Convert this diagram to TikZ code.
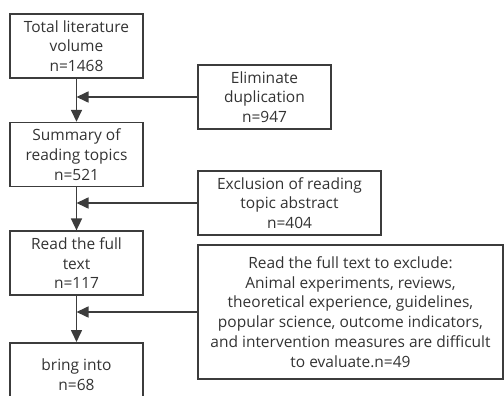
\documentclass[tikz,border=0pt]{standalone}
\usepackage{fontspec}
\setmainfont{Open Sans}
\usetikzlibrary{arrows.meta,positioning}
\definecolor{linegray}{HTML}{3C3C3C}
\definecolor{textgray}{HTML}{333333}
\begin{document}
\begin{tikzpicture}[x=1pt,y=1pt,>={Triangle[length=12pt,width=11pt]},node distance=43pt,
  box/.style={draw=linegray,line width=1.6pt,minimum width=133pt,minimum height=64pt,align=center,
    inner sep=2pt,text=textgray,font=\fontsize{15.5}{19.8}\selectfont},
  arrow/.style={->,line width=1.6pt,draw=linegray,fill=linegray}]
  \useasboundingbox (0,0) rectangle (504,-396);
  \node[box] (total) at (76.5,-46) {Total literature\\volume\\n=1468};
  \node[box,below=of total] (summary) {Summary of\\reading topics\\n=521};
  \node[box,below=of summary] (fulltext) {Read the full\\text\\n=117};
  \node[box,below=46pt of fulltext] (include) {bring into\\n=68};
  \node[box] (elim) at (264.5,-97) {Eliminate\\duplication\\n=947};
  \node[box,minimum width=183pt] (abstract) at (289.5,-203) {Exclusion of reading\\topic abstract\\n=404};
  \node[box,minimum width=305pt,minimum height=134pt] (fullexcl) at (350.5,-312)
    {Read the full text to exclude:\\Animal experiments, reviews,\\theoretical experience, guidelines,\\popular science, outcome indicators,\\and intervention measures are difficult\\to evaluate.n=49};
  \draw[arrow] (total) -- (summary);
  \draw[arrow] (summary) -- (fulltext);
  \draw[arrow] (fulltext) -- (include);
  \draw[arrow] (elim) -- (elim -| total);
  \draw[arrow] (abstract) -- (abstract -| summary);
  \draw[arrow] (fullexcl) -- (fullexcl -| fulltext);
\end{tikzpicture}
\end{document}
